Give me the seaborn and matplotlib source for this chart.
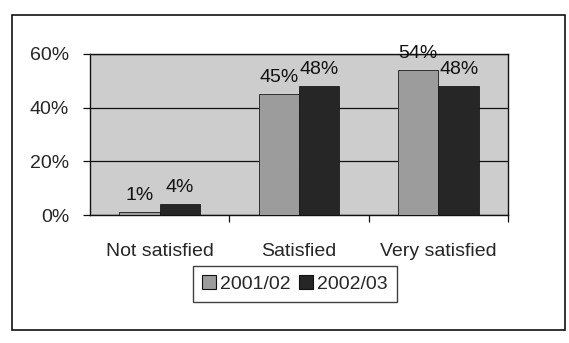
import matplotlib
matplotlib.use("Agg")
import matplotlib.pyplot as plt
import seaborn as sns
import pandas as pd
from matplotlib.patches import Rectangle

categories = ["Not satisfied", "Satisfied", "Very satisfied"]
years = ["2001/02", "2002/03"]
values_2001 = [1, 45, 54]
values_2002 = [4, 48, 48]
y_ticks = [0, 20, 40, 60]
y_tick_labels = ["0%", "20%", "40%", "60%"]

df = pd.DataFrame({
    "category": categories * 2,
    "year": [years[0]] * 3 + [years[1]] * 3,
    "value": values_2001 + values_2002,
})

sns.set_theme(style="white")
plt.rcParams["font.family"] = ["Liberation Sans", "DejaVu Sans"]

fig = plt.figure(figsize=(5.69, 3.43), dpi=100)
ax = fig.add_axes([0.158, 0.373, 0.735, 0.47])
ax.set_facecolor("#cdcdcd")

palette = {"2001/02": "#9c9c9c", "2002/03": "#262626"}
sns.barplot(data=df, x="category", y="value", hue="year", palette=palette,
            width=0.58, gap=0, ax=ax, edgecolor="#1a1a1a", linewidth=0.6,
            saturation=1, zorder=3)

for cont in ax.containers:
    ax.bar_label(cont, labels=[f"{v:.0f}%" for v in cont.datavalues],
                 fontsize=14, padding=6, color="#111111")

ax.set_ylim(0, 60)
ax.set_xlim(-0.5, 2.5)
ax.set_yticks(y_ticks)
ax.set_yticklabels(y_tick_labels, fontsize=14)
ax.yaxis.grid(True, color="#111111", linewidth=0.9, zorder=1)
ax.set_axisbelow(True)
ax.set_xticks([0, 1, 2])
ax.set_xticklabels(categories, fontsize=14)
ax.tick_params(axis="x", length=0, pad=20)
ax.tick_params(axis="y", length=5, width=0.9, color="#111111", left=True, pad=10)
# category boundary ticks
ax.set_xticks([0.5, 1.5, 2.5], minor=True)
ax.tick_params(axis="x", which="minor", length=5, width=0.9, color="#111111", bottom=True)
ax.set_xlabel("")
ax.set_ylabel("")
for s in ax.spines.values():
    s.set_color("#111111")
    s.set_linewidth(1.0)

ax.legend_.remove()
handles = [Rectangle((0, 0), 1, 1, facecolor=palette[y], edgecolor="#111111", linewidth=0.8) for y in years]
fig.legend(handles, years, loc="center", bbox_to_anchor=(295 / 569, 1 - 284 / 343),
           ncol=2, fontsize=14, frameon=True, fancybox=False, edgecolor="#111111",
           handlelength=0.7, handleheight=0.7, handletextpad=0.25, columnspacing=0.4,
           borderpad=0.45)

fig.patches.append(Rectangle((12 / 569, 1 - 330 / 343), 553 / 569, 315 / 343,
                             transform=fig.transFigure, fill=False,
                             edgecolor="#111111", linewidth=1.2))

fig.savefig("out.png", dpi=100, facecolor="white")
